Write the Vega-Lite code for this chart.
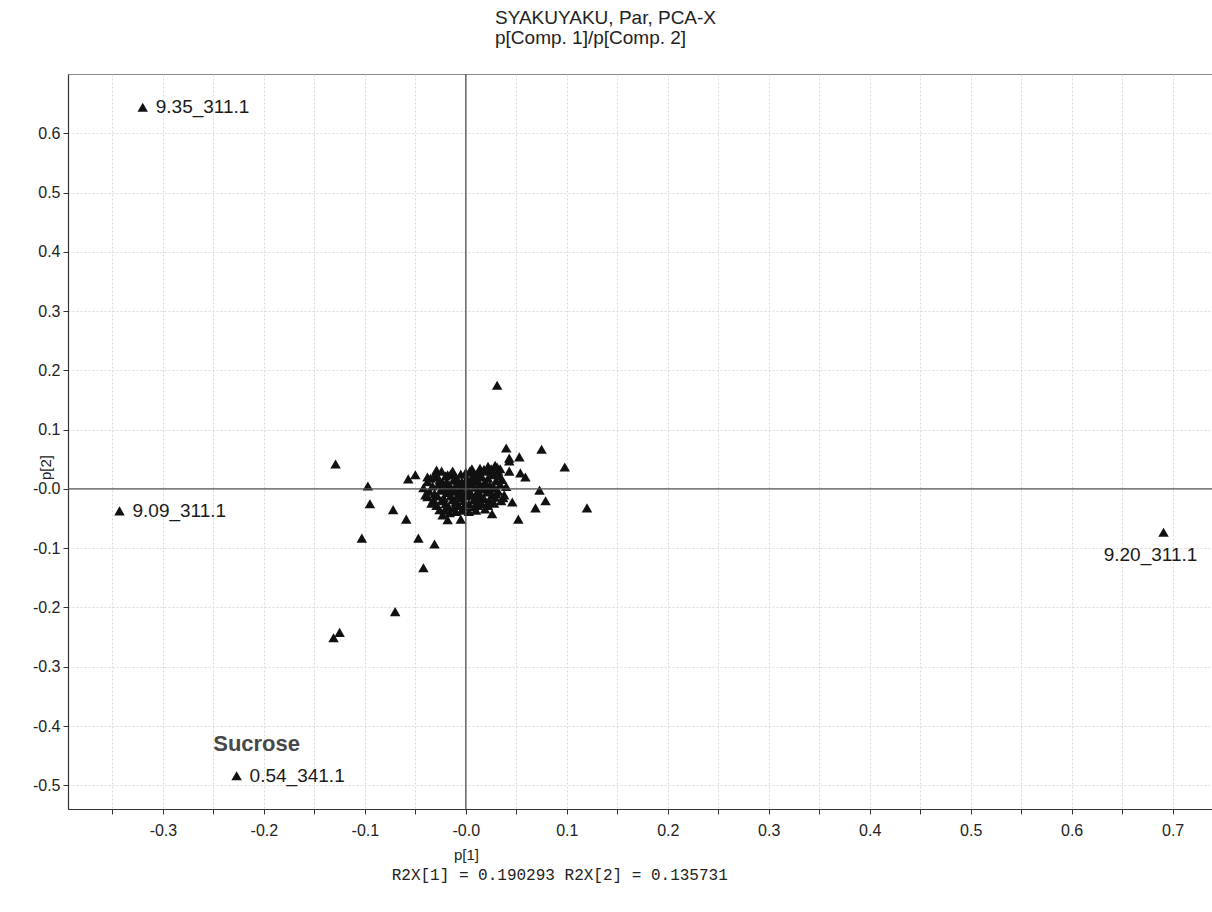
{
  "$schema": "https://vega.github.io/schema/vega-lite/v6.json",
  "width": 1144,
  "height": 735,
  "autosize": {"type": "none"},
  "padding": {"left": 68, "top": 74, "right": 0, "bottom": 103},
  "background": "white",
  "title": {
    "text": ["SYAKUYAKU, Par, PCA-X", "p[Comp. 1]/p[Comp. 2]"],
    "anchor": "start",
    "frame": "group",
    "dx": 427,
    "offset": 25,
    "font": "Liberation Sans",
    "fontSize": 19,
    "fontWeight": "normal",
    "color": "#222",
    "lineHeight": 20
  },
  "config": {
    "view": {"stroke": "#888", "strokeWidth": 1},
    "font": "Liberation Sans"
  },
  "datasets": {
    "pts": [
      {"p1": -0.320, "p2": 0.644, "label": "9.35_311.1"},
      {"p1": -0.343, "p2": -0.037, "label": "9.09_311.1"},
      {"p1": 0.691, "p2": -0.073, "label": "9.20_311.1"},
      {"p1": -0.227, "p2": -0.484, "label": "0.54_341.1", "note": "Sucrose"},
      {"p1": 0.031, "p2": 0.175},
      {"p1": -0.129, "p2": 0.042},
      {"p1": -0.097, "p2": 0.005},
      {"p1": -0.095, "p2": -0.025},
      {"p1": -0.072, "p2": -0.035},
      {"p1": -0.059, "p2": -0.051},
      {"p1": -0.103, "p2": -0.083},
      {"p1": -0.047, "p2": -0.083},
      {"p1": -0.031, "p2": -0.093},
      {"p1": -0.042, "p2": -0.133},
      {"p1": -0.070, "p2": -0.207},
      {"p1": -0.131, "p2": -0.251},
      {"p1": -0.125, "p2": -0.242},
      {"p1": -0.057, "p2": 0.017},
      {"p1": -0.050, "p2": 0.024},
      {"p1": -0.038, "p2": 0.020},
      {"p1": -0.029, "p2": 0.032},
      {"p1": -0.018, "p2": 0.024},
      {"p1": -0.038, "p2": -0.013},
      {"p1": -0.023, "p2": -0.044},
      {"p1": -0.018, "p2": -0.052},
      {"p1": 0.040, "p2": 0.069},
      {"p1": 0.043, "p2": 0.052},
      {"p1": 0.043, "p2": 0.047},
      {"p1": 0.053, "p2": 0.054},
      {"p1": 0.075, "p2": 0.067},
      {"p1": 0.098, "p2": 0.037},
      {"p1": 0.043, "p2": 0.030},
      {"p1": 0.054, "p2": 0.027},
      {"p1": 0.059, "p2": 0.020},
      {"p1": 0.073, "p2": -0.002},
      {"p1": 0.079, "p2": -0.020},
      {"p1": 0.069, "p2": -0.032},
      {"p1": 0.120, "p2": -0.032},
      {"p1": 0.046, "p2": -0.022},
      {"p1": 0.037, "p2": -0.015},
      {"p1": 0.026, "p2": -0.042},
      {"p1": 0.052, "p2": -0.051},
      {"p1": -0.005, "p2": -0.051},
      {"p1": -0.038, "p2": 0.012},
      {"p1": -0.035, "p2": 0.018},
      {"p1": -0.033, "p2": 0.005},
      {"p1": -0.031, "p2": -0.008},
      {"p1": -0.030, "p2": 0.020},
      {"p1": -0.028, "p2": -0.012},
      {"p1": -0.027, "p2": 0.008},
      {"p1": -0.026, "p2": 0.015},
      {"p1": -0.025, "p2": -0.002},
      {"p1": -0.024, "p2": -0.020},
      {"p1": -0.023, "p2": 0.010},
      {"p1": -0.022, "p2": -0.015},
      {"p1": -0.021, "p2": 0.003},
      {"p1": -0.020, "p2": -0.025},
      {"p1": -0.019, "p2": 0.012},
      {"p1": -0.018, "p2": -0.006},
      {"p1": -0.017, "p2": -0.030},
      {"p1": -0.016, "p2": 0.006},
      {"p1": -0.015, "p2": -0.012},
      {"p1": -0.014, "p2": 0.000},
      {"p1": -0.013, "p2": -0.018},
      {"p1": -0.012, "p2": 0.015},
      {"p1": -0.011, "p2": -0.004},
      {"p1": -0.010, "p2": -0.022},
      {"p1": -0.009, "p2": 0.008},
      {"p1": -0.008, "p2": -0.010},
      {"p1": -0.007, "p2": -0.028},
      {"p1": -0.006, "p2": 0.002},
      {"p1": -0.005, "p2": -0.015},
      {"p1": -0.004, "p2": 0.012},
      {"p1": -0.003, "p2": -0.006},
      {"p1": -0.002, "p2": -0.020},
      {"p1": -0.001, "p2": 0.005},
      {"p1": 0.000, "p2": -0.012},
      {"p1": 0.001, "p2": 0.018},
      {"p1": 0.002, "p2": -0.002},
      {"p1": 0.003, "p2": -0.025},
      {"p1": 0.004, "p2": 0.030},
      {"p1": 0.005, "p2": 0.008},
      {"p1": 0.006, "p2": -0.010},
      {"p1": 0.007, "p2": 0.022},
      {"p1": 0.008, "p2": -0.018},
      {"p1": 0.009, "p2": 0.003},
      {"p1": 0.010, "p2": 0.014},
      {"p1": 0.011, "p2": -0.006},
      {"p1": 0.012, "p2": 0.026},
      {"p1": 0.013, "p2": -0.022},
      {"p1": 0.014, "p2": 0.008},
      {"p1": 0.015, "p2": -0.012},
      {"p1": 0.016, "p2": 0.020},
      {"p1": 0.017, "p2": 0.000},
      {"p1": 0.018, "p2": -0.016},
      {"p1": 0.019, "p2": 0.012},
      {"p1": 0.020, "p2": 0.030},
      {"p1": 0.021, "p2": -0.005},
      {"p1": 0.022, "p2": 0.018},
      {"p1": 0.023, "p2": -0.020},
      {"p1": 0.024, "p2": 0.006},
      {"p1": 0.025, "p2": 0.034},
      {"p1": 0.026, "p2": -0.010},
      {"p1": 0.027, "p2": 0.024},
      {"p1": 0.028, "p2": 0.002},
      {"p1": 0.029, "p2": -0.014},
      {"p1": 0.030, "p2": 0.014},
      {"p1": 0.031, "p2": 0.037},
      {"p1": 0.032, "p2": -0.004},
      {"p1": 0.033, "p2": 0.022},
      {"p1": 0.034, "p2": 0.008},
      {"p1": 0.035, "p2": -0.020},
      {"p1": -0.036, "p2": -0.004},
      {"p1": -0.032, "p2": -0.018},
      {"p1": -0.029, "p2": -0.028},
      {"p1": -0.026, "p2": -0.035},
      {"p1": -0.020, "p2": 0.022},
      {"p1": -0.015, "p2": 0.025},
      {"p1": -0.010, "p2": 0.020},
      {"p1": -0.005, "p2": 0.025},
      {"p1": 0.000, "p2": 0.028},
      {"p1": 0.002, "p2": 0.012},
      {"p1": -0.002, "p2": -0.030},
      {"p1": 0.008, "p2": -0.030},
      {"p1": 0.012, "p2": -0.028},
      {"p1": 0.016, "p2": -0.025},
      {"p1": 0.022, "p2": -0.028},
      {"p1": 0.028, "p2": -0.024},
      {"p1": 0.030, "p2": -0.008},
      {"p1": 0.018, "p2": 0.033},
      {"p1": 0.009, "p2": 0.024},
      {"p1": 0.014, "p2": 0.035},
      {"p1": -0.008, "p2": 0.014},
      {"p1": -0.012, "p2": -0.032},
      {"p1": 0.006, "p2": 0.016},
      {"p1": -0.018, "p2": 0.000},
      {"p1": 0.020, "p2": 0.008},
      {"p1": 0.024, "p2": -0.004},
      {"p1": 0.010, "p2": -0.012},
      {"p1": 0.004, "p2": -0.006},
      {"p1": -0.004, "p2": -0.002},
      {"p1": 0.015, "p2": 0.002},
      {"p1": 0.032, "p2": 0.030},
      {"p1": 0.036, "p2": 0.016},
      {"p1": 0.038, "p2": -0.010},
      {"p1": 0.040, "p2": 0.004},
      {"p1": -0.040, "p2": -0.010},
      {"p1": -0.042, "p2": 0.002},
      {"p1": -0.034, "p2": -0.024},
      {"p1": -0.030, "p2": 0.027},
      {"p1": -0.024, "p2": 0.030},
      {"p1": -0.021, "p2": -0.036},
      {"p1": -0.016, "p2": -0.040},
      {"p1": -0.010, "p2": -0.038},
      {"p1": -0.004, "p2": -0.036},
      {"p1": 0.003, "p2": -0.038},
      {"p1": 0.010, "p2": -0.036},
      {"p1": 0.019, "p2": -0.034},
      {"p1": 0.026, "p2": 0.028},
      {"p1": 0.029, "p2": 0.040},
      {"p1": 0.034, "p2": 0.034},
      {"p1": 0.022, "p2": 0.038},
      {"p1": 0.006, "p2": 0.034},
      {"p1": -0.013, "p2": 0.030}
    ],
    "foot": [
      {"fText": "R2X[1] = 0.190293 R2X[2] = 0.135731"}
    ]
  },
  "layer": [
    {
      "data": {"name": "pts"},
      "mark": {"type": "point", "shape": "triangle-up", "filled": true, "color": "#111", "opacity": 1, "size": 110},
      "encoding": {
        "x": {
          "field": "p1",
          "type": "quantitative",
          "scale": {"domain": [-0.394, 0.739], "nice": false, "zero": false},
          "axis": {
            "title": "p[1]",
            "values": [-0.35, -0.3, -0.25, -0.2, -0.15, -0.1, -0.05, 0, 0.05, 0.1, 0.15, 0.2, 0.25, 0.3, 0.35, 0.4, 0.45, 0.5, 0.55, 0.6, 0.65, 0.7],
            "labelExpr": "abs(datum.value*10 - round(datum.value*10)) > 0.001 ? '' : (abs(datum.value) < 0.0001 ? '-0.0' : replace(format(datum.value, '.1f'), '\u2212', '-'))",
            "grid": true,
            "gridColor": "#dadada",
            "gridDash": [2, 2],
            "domainColor": "#333",
            "domainWidth": 1.2,
            "tickColor": "#333",
            "tickSize": 5,
            "labelFont": "Liberation Sans",
            "labelFontSize": 16,
            "labelColor": "#222",
            "labelPadding": 8,
            "labelOverlap": false,
            "labelFlush": false,
            "titleFont": "Liberation Sans",
            "titleFontSize": 15,
            "titleFontWeight": "normal",
            "titleColor": "#222",
            "titleX": 398,
            "titleY": 45,
            "titleAlign": "center",
            "titleBaseline": "middle"
          }
        },
        "y": {
          "field": "p2",
          "type": "quantitative",
          "scale": {"domain": [-0.54, 0.70], "nice": false, "zero": false},
          "axis": {
            "title": "p[2]",
            "values": [-0.5, -0.45, -0.4, -0.35, -0.3, -0.25, -0.2, -0.15, -0.1, -0.05, 0, 0.05, 0.1, 0.15, 0.2, 0.25, 0.3, 0.35, 0.4, 0.45, 0.5, 0.55, 0.6, 0.65],
            "labelExpr": "abs(datum.value*10 - round(datum.value*10)) > 0.001 ? '' : (abs(datum.value) < 0.0001 ? '-0.0' : replace(format(datum.value, '.1f'), '\u2212', '-'))",
            "grid": true,
            "gridColor": "#dadada",
            "gridDash": [2, 2],
            "gridOpacity": {"condition": {"test": "abs(datum.value*10 - round(datum.value*10)) > 0.001", "value": 0}, "value": 1},
            "domainColor": "#333",
            "domainWidth": 1.2,
            "tickColor": "#333",
            "tickSize": 5,
            "labelFont": "Liberation Sans",
            "labelFontSize": 16,
            "labelColor": "#222",
            "labelPadding": 3,
            "labelOverlap": false,
            "labelFlush": false,
            "titleFont": "Liberation Sans",
            "titleFontSize": 15,
            "titleFontWeight": "normal",
            "titleColor": "#222",
            "titleX": -23,
            "titleY": 393,
            "titleAngle": -90,
            "titleAlign": "center",
            "titleBaseline": "middle"
          }
        }
      }
    },
    {
      "data": {"name": "foot"},
      "mark": {"type": "rule", "color": "#555", "strokeWidth": 1.3},
      "encoding": {"x": {"datum": 0, "type": "quantitative"}}
    },
    {
      "data": {"name": "foot"},
      "mark": {"type": "rule", "color": "#555", "strokeWidth": 1.3},
      "encoding": {"y": {"datum": 0, "type": "quantitative"}}
    },
    {
      "data": {"name": "pts"},
      "transform": [{"filter": "datum.label && datum.label != '9.20_311.1'"}],
      "mark": {"type": "text", "align": "left", "baseline": "middle", "dx": 13, "fontSize": 19, "color": "#1a1a1a", "font": "Liberation Sans"},
      "encoding": {
        "x": {"field": "p1", "type": "quantitative"},
        "y": {"field": "p2", "type": "quantitative"},
        "text": {"field": "label"}
      }
    },
    {
      "data": {"name": "pts"},
      "transform": [{"filter": "datum.label == '9.20_311.1'"}],
      "mark": {"type": "text", "align": "center", "baseline": "middle", "dx": -13, "dy": 23, "fontSize": 19, "color": "#1a1a1a", "font": "Liberation Sans"},
      "encoding": {
        "x": {"field": "p1", "type": "quantitative"},
        "y": {"field": "p2", "type": "quantitative"},
        "text": {"field": "label"}
      }
    },
    {
      "data": {"name": "pts"},
      "transform": [{"filter": "datum.note"}],
      "mark": {"type": "text", "align": "center", "baseline": "middle", "dx": 20, "dy": -32, "fontSize": 22, "fontWeight": "bold", "color": "#484848", "font": "Liberation Sans"},
      "encoding": {
        "x": {"field": "p1", "type": "quantitative"},
        "y": {"field": "p2", "type": "quantitative"},
        "text": {"field": "note"}
      }
    },
    {
      "data": {"name": "foot"},
      "mark": {"type": "text", "align": "center", "baseline": "middle", "fontSize": 16, "color": "#222", "font": "Liberation Mono"},
      "encoding": {
        "text": {"field": "fText", "type": "nominal"},
        "x": {"datum": 0.093, "type": "quantitative"},
        "y": {"datum": -0.652, "type": "quantitative"}
      }
    }
  ]
}
